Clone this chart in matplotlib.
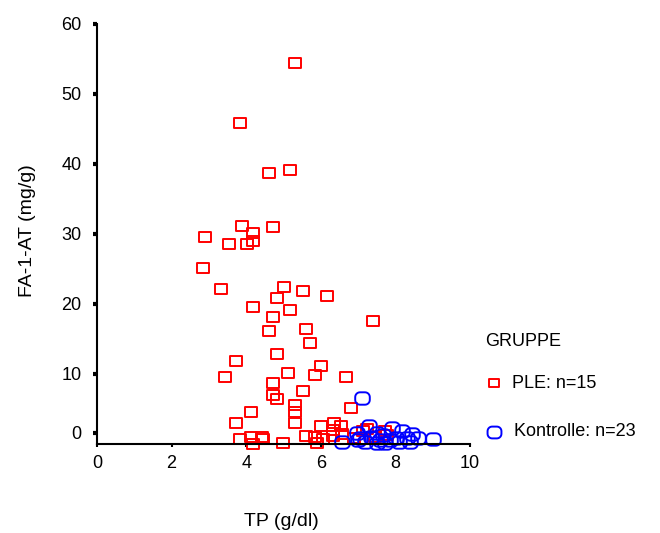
import numpy as np
import matplotlib
matplotlib.use("Agg")
import matplotlib.pyplot as plt
from matplotlib.path import Path

plt.rcParams['font.family'] = ['Liberation Sans', 'DejaVu Sans']

# PLE-Gruppe (TP in g/dl, FA-1-AT in mg/g)
ple_tp = [5.31, 3.83, 4.61, 5.17,
          3.89, 4.72, 2.90, 4.18, 4.19, 3.54, 4.02, 2.83, 3.32, 5.01, 5.52,
          6.17, 4.83, 4.18, 5.17, 4.73, 7.39, 4.61, 5.60,
          5.71, 4.82, 3.73, 6.01, 5.11, 3.43, 5.84, 6.69, 4.72, 5.52, 4.71,
          4.83, 5.31, 4.13, 5.31, 6.80, 3.73, 5.31, 6.01, 6.36, 6.54, 3.83,
          4.13, 4.19, 4.42, 4.44, 4.99, 5.60, 5.84, 5.89, 6.05, 6.32, 6.34,
          6.56, 7.14, 7.72, 7.45, 7.23, 7.77, 6.90]
ple_fa = [54.4, 45.8, 38.7, 39.2,
          31.2, 31.0, 29.5, 30.2, 29.0, 28.5, 28.5, 25.2, 22.1, 22.4, 21.8,
          21.2, 20.8, 19.5, 19.2, 18.1, 17.5, 16.1, 16.4,
          14.4, 12.8, 11.8, 11.2, 10.1, 9.5, 9.8, 9.5, 8.7, 7.6, 7.0,
          6.4, 5.6, 4.5, 4.5, 5.1, 3.0, 3.0, 2.6, 3.0, 2.6, 0.7,
          1.0, 0.0, 1.0, 0.7, 0.1, 1.2, 1.0, 0.1, 0.7, 1.1, 2.0,
          1.4, 1.8, 1.8, 1.0, 2.2, 1.3, 0.9]

# Kontrollgruppe
kon_tp = [7.11, 7.29, 7.90, 8.17, 8.44, 6.96, 7.05, 7.50, 7.59, 7.66, 8.62,
          9.00, 6.56, 8.03, 8.30, 7.72, 7.18, 7.50, 8.39, 7.00, 7.35, 7.85, 8.10]
kon_fa = [6.6, 2.6, 2.3, 1.8, 1.4, 1.5, 0.8, 1.5, 0.6, 1.3, 0.8,
          0.7, 0.3, 0.8, 0.8, 0.1, 0.3, 0.1, 0.3, 0.5, 1.0, 0.5, 0.3]

x_ticks = [0, 2, 4, 6, 8, 10]
y_ticks = [0, 10, 20, 30, 40, 50, 60]


# Marker: Rechteck, etwas breiter als hoch
def rect_marker(w=1.0, h=0.8):
    verts = [(-w/2, -h/2), (w/2, -h/2), (w/2, h/2), (-w/2, h/2), (-w/2, -h/2)]
    codes = [Path.MOVETO] + [Path.LINETO] * 3 + [Path.CLOSEPOLY]
    return Path(verts, codes)


# Marker: abgerundetes Rechteck
def rounded_marker(w=1.0, h=0.85, r=0.33):
    pts = []
    corners = [(w/2 - r, h/2 - r, 0), (-w/2 + r, h/2 - r, 90),
               (-w/2 + r, -h/2 + r, 180), (w/2 - r, -h/2 + r, 270)]
    for cx, cy, a0 in corners:
        for a in np.radians(np.linspace(a0, a0 + 90, 8)):
            pts.append((cx + r * np.cos(a), cy + r * np.sin(a)))
    pts.append(pts[0])
    return Path(pts, closed=True)


sq = rect_marker()
rr = rounded_marker()

fig = plt.figure(figsize=(6.6, 5.33), dpi=100)
ax = fig.add_axes([0.147, 0.167, 0.565, 0.788])

ax.plot(ple_tp, ple_fa, linestyle='none', marker=sq, markersize=8.6,
        markerfacecolor='none', markeredgecolor='#ff0000', markeredgewidth=1.4,
        clip_on=False)
ax.plot(kon_tp, kon_fa, linestyle='none', marker=rr, markersize=10.5,
        markerfacecolor='none', markeredgecolor='#0000ff', markeredgewidth=1.4,
        clip_on=False)

ax.set_xlim(0, 10)
ax.set_ylim(0, 60)
for s in ['top', 'right']:
    ax.spines[s].set_visible(False)
for s in ['left', 'bottom']:
    ax.spines[s].set_linewidth(1.5)

ax.set_xticks(x_ticks)
ax.set_xticklabels([str(t) for t in x_ticks])
# die 0 sitzt im Original etwas über der Achse
ax.set_yticks([1.6] + y_ticks[1:])
ax.set_yticklabels([str(t) for t in y_ticks])
ax.tick_params(axis='y', direction='out', length=3, width=3, pad=8, labelsize=13)
ax.tick_params(axis='x', direction='out', length=2, width=1.5, pad=6, labelsize=13)

fig.text(0.042, 0.568, 'FA-1-AT (mg/g)', rotation=90, fontsize=14,
         ha='center', va='center')
fig.text(0.427, 0.022, 'TP (g/dl)', fontsize=14, ha='center', va='center')

# Legende
fig.text(0.735, 1 - 341 / 533, 'GRUPPE', fontsize=13, va='center')
fig.lines.append(plt.Line2D([494 / 660], [1 - 383 / 533], transform=fig.transFigure,
                            marker=sq, markersize=7, markerfacecolor='none',
                            markeredgecolor='#ff0000', markeredgewidth=1.4))
fig.text(512 / 660, 1 - 383 / 533, 'PLE: n=15', fontsize=13, va='center')
fig.lines.append(plt.Line2D([494 / 660], [1 - 432 / 533], transform=fig.transFigure,
                            marker=rr, markersize=10, markerfacecolor='none',
                            markeredgecolor='#0000ff', markeredgewidth=1.4))
fig.text(514 / 660, 1 - 432 / 533, 'Kontrolle: n=23', fontsize=13, va='center')

fig.savefig('out.png', dpi=100)
